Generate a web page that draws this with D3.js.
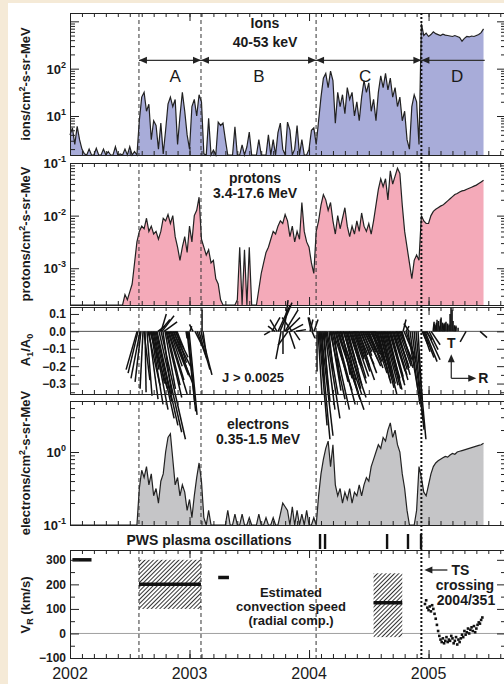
<!DOCTYPE html>
<html>
<head>
<meta charset="utf-8">
<script src="https://cdn.jsdelivr.net/npm/d3@7"></script>
<style>
body { margin: 0; background: #f5ead7; }
svg { display: block; }
text { font-family: "Liberation Sans", Arial, Helvetica, sans-serif; fill: #1a1a1a; }
.ax path, .ax line { stroke: #222; stroke-width: 1; }
.ax text { font-size: 12px; font-weight: bold; fill: #1a1a1a; font-family: "Liberation Sans", Arial, sans-serif; }
</style>
</head>
<body>
<div id="chart"></div>
<script>
// flux series: log10 values on a regular 0.02 yr grid starting 2002.0
var fluxStart = 2002.0;
var fluxStep = 0.02;

var ionsLog = [
  0.6, 0.75, 0.4, 0.78, 0.5, 0.3,
  0.2, 0, 0.3, 0, 0.1, 0.32, 0, 0, 0.3, 0, 0.25, 0, 0, 0.35, 0, 0.2, 0, 0.3, 0, 0.35, 0, 0.25, 0,
  0.9, 1.4, 1.5, 1.1, 1.25, 0.5, 0.9, 0.8, 0.3, 0.85, 0.2, 0.7, 1.25, 1.4, 1.2, 1.35, 0.4, 1.0, 1.5, 1.1,
  0.6, 0.3, 1.2, 1.35, 1.0, 1.45, 1.3, 0.2,
  0, 0.95, 0, 0.28, 0, 0.87, 0.8, 0.85, 0.5, 0, 0, 0, 0.77, 0, 0, 0.39, 0, 0.35, 0.66, 0, 0, 0, 0.5, 0,
  0, 0, 0.6, 0, 0.5, 0, 0.65, 0.85, 0.3, 0, 0.87, 0.7, 0, 0.3, 0.8, 0, 0.5, 0, 0, 0.3, 0.7, 0.75,
  0.4, 0.9, 1.4, 1.8, 1.9, 1.6, 1.95, 1.75, 0.85, 1.5, 1.2, 1.45, 1.05, 1.6, 1.35, 1.5, 1.0, 1.3, 0.9,
  1.4, 1.75, 1.5, 1.7, 1.1, 1.35, 0.9, 1.5, 1.85, 1.6, 1.9, 1.55, 1.8, 1.4, 1.6, 1.2, 1.4, 0.9, 1.1,
  0.5, 0.3, 1.2, 1.45, 1.3, 0.4, 2.95,
  2.7, 2.75, 2.68, 2.72, 2.78, 2.74, 2.72, 2.7, 2.73, 2.71, 2.7, 2.69, 2.68, 2.7, 2.68, 2.66, 2.58,
  2.64, 2.68, 2.67, 2.69, 2.68, 2.7, 2.72, 2.76, 2.84
];

var protonsLog = [
  -4, -4, -4, -4, -4, -4, -4, -4, -4, -4, -4, -4, -4, -4, -4, -4, -4, -4, -4, -4, -4, -4, -4,
  -3.5, -3.6, -3.45, -3.3, -2.9, -2.5,
  -2.3, -2.2, -2.25, -2.05, -2.3, -2.2, -2.35, -2.3, -2.45, -2.3, -2.05, -2.1, -1.98, -2.15, -2.0,
  -2.4, -2.6, -2.85, -2.6, -2.4, -2.7, -2.2, -2.5, -2.0, -1.9, -1.65, -2.45, -2.6,
  -2.75, -2.65, -2.9, -2.85, -3.2, -3.3, -3.6, -3.9, -4, -4, -4, -4, -4, -3.6,
  -2.6, -3.8, -2.65, -3.9, -2.6, -3.9, -4, -4,
  -3.4, -3.1, -2.9, -2.7, -2.6, -2.45, -2.3, -2.35, -2.2, -2.1, -2.15, -1.98, -2.1, -2.4, -2.2,
  -2.5, -2.3, -2.45, -1.75, -2.3, -2.5, -2.6, -2.9, -3.1,
  -2.3, -2.1, -1.8, -1.6, -1.7, -1.9, -1.75, -2.1, -2.35, -2.0, -2.25, -2.05, -1.85, -2.2, -2.4,
  -2.2, -2.35, -2.1, -2.3, -1.95, -2.2, -2.3, -2.15, -2.35, -2.1, -1.8, -1.5, -1.3, -1.45, -1.3,
  -1.7, -1.15, -1.4, -1.25, -1.1, -1.2, -1.8, -2.3, -2.6, -2.9, -3.2, -2.85, -2.75, -2.85,
  -2.0, -2.1, -2.15, -2.15, -2.0, -1.92, -1.88, -1.85, -1.82, -1.8, -1.76, -1.72, -1.68, -1.64,
  -1.6, -1.58, -1.55, -1.53, -1.52, -1.5, -1.48, -1.46, -1.44, -1.42, -1.39, -1.36, -1.33
];

var electronsLog = [
  -1.1, -1.1, -1.1, -1.1, -1.1, -1.1, -1.1, -1.1, -1.1, -1.1, -1.1, -1.1, -1.1, -1.1, -1.1,
  -1.1, -1.1, -1.1, -1.1, -1.1, -1.1, -1.1, -1.1, -1.1, -1.1, -1.1, -1.1, -1.1, -1.1,
  -0.5, -0.25, -0.35, -0.2, -0.45, -0.3, -0.6, -0.5, -0.7, -0.4, -0.3, 0.0, 0.2, 0.25, -0.1,
  -0.45, -0.35, -0.6, -0.45, -0.55, -0.8, -0.65, -0.9, -0.6, -0.35, -0.15, -0.4, -0.9,
  -1.1, -0.8, -1.1, -1.1, -1.1, -1.1, -1.1, -1.1, -1.1, -0.8, -1.1, -1.1, -0.85, -1.1, -1.1,
  -0.85, -1.1, -1.1, -0.9, -1.1, -1.1, -1.1, -0.85, -1.1, -1.1, -0.9, -1.1, -1.1, -0.9, -1.1,
  -1.1, -0.85, -0.7, -0.75, -0.8, -1.1, -0.75, -1.1, -0.8, -1.1, -0.85, -1.1, -0.8, -1.1, -1.1,
  -0.9, -1.1,
  -0.6, -0.3, -0.1, 0.05, 0.15, -0.2, 0.1, -0.45, -0.6, -0.5, -0.7, -0.55, -0.65, -0.5, -0.7,
  -0.55, -0.6, -0.45, -0.6, -0.45, -0.35, -0.4, -0.2, -0.1, 0.0, 0.1, 0.05, 0.2, 0.15, 0.3,
  0.4, 0.2, 0.3, 0.1, 0.0, -0.3, -0.5, -0.8, -1.1, -1.1, -1.0, -0.8, -0.2,
  -0.35, -0.55, -0.6, -0.45, -0.3, -0.2, -0.15, -0.12, -0.1, -0.08, -0.06, -0.07, -0.04, -0.02,
  -0.03, 0.0, 0.01, 0.02, 0.03, 0.04, 0.05, 0.06, 0.07, 0.08, 0.09, 0.1, 0.12
];

// anisotropy vectors: [time, R component, T component] (A1/A0 units)
var aniso = [
  [2002.561, -0.063, -0.22], [2002.569, -0.057, -0.24], [2002.586, -0.052, -0.27], [2002.594, -0.034, -0.29],
  [2002.611, -0.017, -0.33], [2002.619, 0.034, -0.28], [2002.628, 0.006, -0.35], [2002.644, 0.029, -0.37],
  [2002.653, 0.069, -0.31], [2002.661, 0.052, -0.39], [2002.669, 0.1, -0.33], [2002.678, 0.069, -0.42],
  [2002.686, 0.04, -0.22], [2002.695, 0.086, -0.45], [2002.703, 0.06, -0.3], [2002.711, 0.11, -0.5],
  [2002.720, 0.09, -0.4], [2002.728, 0.12, -0.54], [2002.736, 0.04, 0.03], [2002.745, 0.13, -0.58],
  [2002.753, 0.057, 0.068], [2002.762, 0.14, -0.62], [2002.762, 0.03, 0.1], [2002.770, 0.069, 0.09],
  [2002.778, 0.05, -0.36], [2002.787, 0.075, 0.055], [2002.795, 0.06, -0.33], [2002.804, 0.09, -0.38],
  [2002.812, 0.075, -0.31], [2002.820, 0.11, -0.36], [2002.828, 0.086, -0.28], [2002.837, 0.07, -0.2],
  [2002.845, 0.1, -0.25], [2002.853, 0.12, -0.3], [2002.862, 0.1, -0.2], [2002.870, 0.09, -0.26],
  [2002.879, 0.075, -0.15], [2002.887, 0.06, -0.18], [2002.895, 0.04, -0.1], [2002.971, 0.006, -0.04],
  [2002.979, 0.05, -0.46], [2002.987, 0.04, -0.42], [2002.996, 0.046, -0.48], [2003.004, 0.01, 0.03],
  [2003.029, -0.02, 0.04], [2003.046, 0.05, -0.1], [2003.063, 0.057, -0.16], [2003.079, 0.063, -0.22],
  [2003.096, 0.063, -0.25], [2003.105, 0, 0.124], [2003.113, 0.017, -0.12],
  [2003.674, -0.034, -0.02], [2003.690, 0.046, 0.08], [2003.715, -0.04, 0.03], [2003.732, -0.04, 0.068],
  [2003.741, 0.069, 0.15], [2003.757, 0.069, 0.165], [2003.766, -0.03, -0.16], [2003.782, 0, -0.13],
  [2003.791, 0.023, 0.18], [2003.799, 0.075, 0.124], [2003.808, 0.08, 0.08], [2003.824, -0.057, -0.08],
  [2003.833, 0.034, -0.1], [2003.841, 0.075, 0.04], [2003.858, -0.057, 0.08], [2003.874, 0.034, -0.05],
  [2003.891, 0.057, 0.01], [2004.008, 0.017, 0.068], [2004.017, -0.017, 0.08], [2004.025, 0.017, -0.04],
  [2004.033, -0.023, 0.08], [2004.042, 0.023, 0.068],
  [2004.067, 0, -0.23], [2004.075, 0.023, -0.365], [2004.084, 0.046, -0.54], [2004.092, 0.057, -0.62],
  [2004.100, 0.069, -0.6], [2004.109, 0.011, -0.28], [2004.117, 0.04, -0.4], [2004.126, 0.023, -0.34],
  [2004.134, 0.057, -0.45], [2004.142, 0.08, -0.5], [2004.151, 0.063, -0.365], [2004.167, 0.023, -0.22],
  [2004.176, 0.086, -0.39], [2004.184, 0.057, -0.34], [2004.192, 0.1, -0.45], [2004.201, 0.109, -0.34],
  [2004.209, 0.034, -0.28], [2004.218, 0.075, -0.29], [2004.226, 0.11, -0.42], [2004.234, 0.155, -0.45],
  [2004.243, 0.126, -0.39], [2004.251, 0.075, -0.27], [2004.259, 0.126, -0.365], [2004.268, 0.098, -0.35],
  [2004.276, 0.046, -0.25], [2004.285, 0.132, -0.38], [2004.293, 0.069, -0.28], [2004.302, 0.09, -0.33],
  [2004.310, 0.069, -0.22], [2004.318, 0.05, -0.18], [2004.326, 0.08, -0.31], [2004.335, 0.1, -0.3],
  [2004.343, 0.057, -0.19], [2004.352, 0.06, -0.2], [2004.360, 0.08, -0.27], [2004.368, 0.09, -0.26],
  [2004.377, 0.057, -0.16], [2004.385, 0.05, -0.15], [2004.393, 0.08, -0.23], [2004.402, 0.1, -0.28],
  [2004.410, 0.057, -0.135], [2004.419, 0.06, -0.2], [2004.427, 0.08, -0.19], [2004.435, 0.09, -0.24],
  [2004.444, 0.057, -0.117], [2004.452, 0.05, -0.14], [2004.460, 0.08, -0.163], [2004.469, 0.09, -0.2],
  [2004.477, 0.057, -0.105], [2004.486, 0.05, -0.12], [2004.494, 0.08, -0.174], [2004.502, 0.08, -0.21],
  [2004.510, 0.057, -0.094], [2004.519, 0.05, -0.13], [2004.527, 0.08, -0.19], [2004.536, 0.08, -0.24],
  [2004.544, 0.057, -0.135], [2004.552, 0.06, -0.18], [2004.561, 0.069, -0.23], [2004.569, 0.08, -0.3],
  [2004.577, 0.069, -0.28], [2004.586, 0.07, -0.26], [2004.594, 0.08, -0.325], [2004.603, 0.09, -0.36],
  [2004.611, 0.057, -0.25], [2004.620, 0.07, -0.3], [2004.628, 0.08, -0.31], [2004.636, 0.09, -0.33],
  [2004.644, 0.08, -0.27], [2004.653, 0.07, -0.28], [2004.661, 0.08, -0.335], [2004.670, 0.09, -0.31],
  [2004.678, 0.08, -0.29], [2004.686, 0.07, -0.26], [2004.695, 0.075, -0.23], [2004.703, 0.08, -0.25],
  [2004.711, 0.08, -0.28], [2004.720, 0.07, -0.22], [2004.728, 0.069, -0.19], [2004.736, 0.07, -0.21],
  [2004.745, 0.069, -0.25], [2004.753, 0.07, -0.2], [2004.762, 0.069, -0.163], [2004.770, 0.06, -0.18],
  [2004.778, 0.063, -0.21], [2004.787, 0.017, 0.068], [2004.795, 0.057, -0.135], [2004.812, 0.057, -0.174],
  [2004.812, 0.017, 0.03], [2004.828, 0.057, -0.335], [2004.837, -0.03, 0.045], [2004.845, 0.057, -0.42],
  [2004.862, 0.063, -0.51], [2004.879, 0.057, -0.565], [2004.895, 0.057, -0.62], [2004.912, 0.023, -0.39],
  [2004.946, 0.034, -0.077], [2004.954, 0.04, -0.117], [2004.962, 0.057, -0.15], [2004.971, 0.069, -0.174],
  [2004.979, 0.034, -0.048], [2004.987, 0.075, -0.163], [2005.004, 0.052, -0.105], [2005.021, 0.052, -0.077],
  [2005.038, 0.006, 0.055], [2005.046, 0.003, 0.045], [2005.054, 0.006, 0.038], [2005.063, 0.003, 0.05],
  [2005.071, 0, 0.067], [2005.079, 0.003, 0.06], [2005.088, 0.006, 0.033], [2005.096, 0.003, 0.07],
  [2005.105, 0, 0.079], [2005.113, 0.003, 0.05], [2005.121, 0.006, 0.044], [2005.130, 0.003, 0.04],
  [2005.138, 0, 0.05], [2005.146, 0, 0.055], [2005.155, 0.003, 0.045], [2005.163, 0, 0.033],
  [2005.172, 0, 0.04], [2005.180, 0, 0.1], [2005.188, 0, 0.14], [2005.197, 0, 0.124],
  [2005.205, 0, 0.06], [2005.213, 0.003, 0.035], [2005.222, 0.006, 0.033], [2005.230, 0, 0.025],
  [2005.247, 0, 0.021], [2005.314, -0.034, -0.06], [2005.431, 0.04, -0.036]
];

// period boundaries and labels
var boundaries = [2002.577, 2003.096, 2004.059];
var tsTime = 2004.94;
var regionEdges = [2002.577, 2003.096, 2004.059, 2004.94, 2005.47];
var regionNames = ["A", "B", "C", "D"];
var regionLabelT = [2002.88, 2003.58, 2004.47, 2005.24];

// PWS plasma oscillation events
var pwsTimes = [2004.092, 2004.134, 2004.653, 2004.828, 2004.937];

// convection speed estimates: [start, end, speed] and [start, end, low, high]
var vrBars = [[2002.02, 2002.18, 300], [2002.577, 2003.096, 200], [2003.24, 2003.33, 228], [2004.54, 2004.78, 125]];
var vrBoxes = [[2002.577, 2003.096, 100, 300], [2004.54, 2004.78, -15, 245]];

// post-shock radial speed, 0.01 yr grid from 2004.97
var tsVrStart = 2004.97;
var tsVrStep = 0.01;
var tsVr = [120, 135, 105, 95, 110, 90, 115, 100, 80, 60, 35, 10, -10, -25, -35, -20, -40, -30, -15, -35,
  -25, -30, -10, -20, -40, -30, -15, -45, -25, -35, -20, -5, -15, 10, -5, 5, 20, 0, 15, 25,
  10, 30, 5, 20, 35, 45, 40, 55, 65];

var yearTicks = [2002, 2003, 2004, 2005];
var yearLabels = ["2002", "2003", "2004", "2005"];

var width = 504, height = 684;
var left = 70, right = 506;

var svg = d3.select("#chart").append("svg")
  .attr("width", width)
  .attr("height", height);

svg.append("rect").attr("width", width).attr("height", height).attr("fill", "#f5ead7");
svg.append("rect").attr("x", 8).attr("y", 3).attr("width", width - 8).attr("height", height - 3).attr("fill", "#fff");

var defs = svg.append("defs");
var pat = defs.append("pattern")
  .attr("id", "hatch")
  .attr("patternUnits", "userSpaceOnUse")
  .attr("width", 3).attr("height", 3)
  .attr("patternTransform", "rotate(45)");
pat.append("rect").attr("width", 3).attr("height", 3).attr("fill", "#fff");
pat.append("line").attr("x1", 0.5).attr("y1", 0).attr("x2", 0.5).attr("y2", 3)
  .attr("stroke", "#333").attr("stroke-width", 1);

var x = d3.scaleLinear().domain([2002, 2005.648]).range([left, right]);

var yIons = d3.scaleLog().domain([1.5, 1500]).range([155, 13]);
var yProt = d3.scaleLog().domain([2e-4, 0.1]).range([305, 163]);
var yAni = d3.scaleLinear().domain([-0.36, 0.14]).range([394, 307]);
var yElec = d3.scaleLog().domain([0.1, 5]).range([525, 401]);
var yVr = d3.scaleLinear().domain([-100, 340]).range([658, 550]);

var minorX = d3.range(2002, 2005.65, 0.1);

function xAxes(y) {
  var yb = y.range()[0], yt = y.range()[1];
  svg.append("g").attr("class", "ax").attr("transform", "translate(0," + yt + ")")
    .call(d3.axisTop(x).tickValues(minorX).tickSize(-4).tickSizeOuter(0).tickFormat(""));
  svg.append("g").attr("class", "ax").attr("transform", "translate(0," + yt + ")")
    .call(d3.axisTop(x).tickValues(yearTicks).tickSize(-8).tickSizeOuter(0).tickFormat(""));
  svg.append("g").attr("class", "ax").attr("transform", "translate(0," + yb + ")")
    .call(d3.axisBottom(x).tickValues(minorX).tickSize(-4).tickSizeOuter(0).tickFormat(""));
  svg.append("g").attr("class", "ax").attr("transform", "translate(0," + yb + ")")
    .call(d3.axisBottom(x).tickValues(yearTicks).tickSize(-8).tickSizeOuter(0).tickFormat(""));
}

function yAxes(y, minor, major, fmt) {
  svg.append("g").attr("class", "ax").attr("transform", "translate(" + left + ",0)")
    .call(d3.axisLeft(y).tickValues(minor).tickSize(-5).tickSizeOuter(0).tickFormat(""));
  svg.append("g").attr("class", "ax").attr("transform", "translate(" + left + ",0)")
    .call(d3.axisLeft(y).tickValues(major).tickSize(-9).tickSizeOuter(0).tickPadding(4).tickFormat(fmt || ""));
  svg.append("g").attr("class", "ax").attr("transform", "translate(" + right + ",0)")
    .call(d3.axisRight(y).tickValues(minor).tickSize(-5).tickSizeOuter(0).tickFormat(""));
  svg.append("g").attr("class", "ax").attr("transform", "translate(" + right + ",0)")
    .call(d3.axisRight(y).tickValues(major).tickSize(-9).tickSizeOuter(0).tickFormat(""));
}

function logTicks(y) {
  var all = y.ticks();
  var major = all.filter(function(v) { return Math.abs(Math.log10(v) - Math.round(Math.log10(v))) < 1e-6; });
  var minor = all.filter(function(v) { return major.indexOf(v) < 0; });
  yAxes(y, minor, major);
}

function powLabel(y, v, exp) {
  var t = svg.append("text")
    .attr("x", left - 4)
    .attr("y", y(v) + 5)
    .attr("text-anchor", "end")
    .attr("font-size", 13)
    .attr("font-weight", "bold");
  t.append("tspan").text("10");
  t.append("tspan").attr("dy", -6).attr("font-size", 9).text(exp);
}

function dashedLines(y) {
  boundaries.forEach(function(b) {
    svg.append("line")
      .attr("x1", x(b)).attr("x2", x(b))
      .attr("y1", y.range()[1]).attr("y2", y.range()[0])
      .attr("stroke", "#333").attr("stroke-width", 1)
      .attr("stroke-dasharray", "4,3");
  });
}

function fluxPanel(vals, y, fill) {
  var floor = y.domain()[0];
  var pts = vals.map(function(v, i) {
    return [fluxStart + i * fluxStep, Math.max(Math.pow(10, v), floor)];
  });
  var area = d3.area()
    .x(function(d) { return x(d[0]); })
    .y0(y.range()[0])
    .y1(function(d) { return y(d[1]); });
  var line = d3.line()
    .x(function(d) { return x(d[0]); })
    .y(function(d) { return y(d[1]); });
  svg.append("path").datum(pts).attr("d", area).attr("fill", fill);
  svg.append("path").datum(pts).attr("d", line)
    .attr("fill", "none").attr("stroke", "#222").attr("stroke-width", 1.2);
}

function yTitle(cy, build) {
  var t = svg.append("text")
    .attr("transform", "translate(25," + cy + ") rotate(-90)")
    .attr("text-anchor", "middle")
    .attr("dy", "0.35em")
    .attr("font-size", 13)
    .attr("font-weight", "bold");
  build(t);
}

function perCm2(t, name) {
  t.append("tspan").text(name + "/cm");
  t.append("tspan").attr("dy", -5).attr("font-size", 9).text("2");
  t.append("tspan").attr("dy", 5).text("-s-sr-MeV");
}

function centerText(tx, ty, str, size, weight) {
  return svg.append("text")
    .attr("x", tx).attr("y", ty)
    .attr("text-anchor", "middle")
    .attr("font-size", size)
    .attr("font-weight", weight || "bold")
    .text(str);
}

function arrowHead(xTip, yTip, dx, dy) {
  // dx, dy: unit direction of the arrow
  var px = -dy, py = dx, L = 8, w = 3.5;
  var bx = xTip - dx * L, by = yTip - dy * L;
  svg.append("path")
    .attr("d", "M" + xTip + "," + yTip + "L" + (bx + px * w) + "," + (by + py * w) +
      "L" + (bx - px * w) + "," + (by - py * w) + "Z")
    .attr("fill", "#222");
}

// ---- panel 1: ions ----
fluxPanel(ionsLog, yIons, "#a8acd9");
dashedLines(yIons);
xAxes(yIons);
logTicks(yIons);
powLabel(yIons, 100, "2");
powLabel(yIons, 10, "1");
centerText(265, 28, "Ions", 14);
centerText(265, 47, "40-53 keV", 14);

var arrowY = yIons(150);
svg.append("line")
  .attr("x1", x(regionEdges[0])).attr("x2", x(regionEdges[4]))
  .attr("y1", arrowY).attr("y2", arrowY)
  .attr("stroke", "#333").attr("stroke-width", 1.4);
regionNames.forEach(function(n, i) {
  arrowHead(x(regionEdges[i]), arrowY, -1, 0);
  if (i < 3) arrowHead(x(regionEdges[i + 1]), arrowY, 1, 0);
  centerText(x(regionLabelT[i]), arrowY + 22, n, 17, "normal");
});

// ---- panel 2: protons ----
fluxPanel(protonsLog, yProt, "#f4aab9");
dashedLines(yProt);
xAxes(yProt);
logTicks(yProt);
powLabel(yProt, 0.1, "-1");
powLabel(yProt, 0.01, "-2");
powLabel(yProt, 0.001, "-3");
centerText(255, 183, "protons", 14);
centerText(255, 198, "3.4-17.6 MeV", 14);

// ---- panel 3: anisotropy vectors ----
var aUnit = yAni(0) - yAni(1);
svg.append("line")
  .attr("x1", left).attr("x2", right)
  .attr("y1", yAni(0)).attr("y2", yAni(0))
  .attr("stroke", "#555").attr("stroke-width", 1);
dashedLines(yAni);
svg.append("g").selectAll("line").data(aniso).enter()
  .append("line")
  .attr("x1", function(d) { return x(d[0]); })
  .attr("y1", yAni(0))
  .attr("x2", function(d) { return x(d[0]) + d[1] * aUnit; })
  .attr("y2", function(d) { return yAni(d[2]); })
  .attr("stroke", "#111")
  .attr("stroke-width", 1.5);
xAxes(yAni);
yAxes(yAni, [-0.35, -0.25, -0.15, -0.05, 0.05], [-0.3, -0.2, -0.1, 0, 0.1], d3.format(".1f"));
centerText(253, 382, "J > 0.0025", 13);

// T / R frame legend
var legX = x(2005.19), legY = yAni(-0.27);
svg.append("line").attr("x1", legX).attr("x2", legX).attr("y1", legY).attr("y2", legY - 20)
  .attr("stroke", "#222").attr("stroke-width", 1.2);
arrowHead(legX, legY - 24, 0, -1);
svg.append("line").attr("x1", legX).attr("x2", legX + 20).attr("y1", legY).attr("y2", legY)
  .attr("stroke", "#222").attr("stroke-width", 1.2);
arrowHead(legX + 25, legY, 1, 0);
centerText(legX, legY - 30, "T", 14);
centerText(legX + 32, legY + 5, "R", 14);

yTitle(350, function(t) {
  t.append("tspan").text("A");
  t.append("tspan").attr("dy", 3).attr("font-size", 9).text("1");
  t.append("tspan").attr("dy", -3).text("/A");
  t.append("tspan").attr("dy", 3).attr("font-size", 9).text("0");
});

// ---- panel 4: electrons ----
fluxPanel(electronsLog, yElec, "#c5c5c7");
dashedLines(yElec);
xAxes(yElec);
logTicks(yElec);
powLabel(yElec, 1, "0");
powLabel(yElec, 0.1, "-1");
centerText(258, 429, "electrons", 14);
centerText(258, 444, "0.35-1.5 MeV", 14);

// ---- PWS row ----
centerText(209, 545, "PWS plasma oscillations", 14);
svg.append("g").selectAll("rect").data(pwsTimes).enter()
  .append("rect")
  .attr("x", function(d) { return x(d) - 1.2; })
  .attr("width", 2.4)
  .attr("y", 534)
  .attr("height", 15)
  .attr("fill", "#111");

// ---- panel 5: radial convection speed ----
svg.append("line")
  .attr("x1", left).attr("x2", right)
  .attr("y1", yVr(0)).attr("y2", yVr(0))
  .attr("stroke", "#888").attr("stroke-width", 0.8);
svg.append("g").selectAll("rect").data(vrBoxes).enter()
  .append("rect")
  .attr("x", function(d) { return x(d[0]); })
  .attr("width", function(d) { return x(d[1]) - x(d[0]); })
  .attr("y", function(d) { return yVr(d[3]); })
  .attr("height", function(d) { return yVr(d[2]) - yVr(d[3]); })
  .attr("fill", "url(#hatch)");
dashedLines(yVr);
svg.append("g").selectAll("line").data(vrBars).enter()
  .append("line")
  .attr("x1", function(d) { return x(d[0]); })
  .attr("x2", function(d) { return x(d[1]); })
  .attr("y1", function(d) { return yVr(d[2]); })
  .attr("y2", function(d) { return yVr(d[2]); })
  .attr("stroke", "#111")
  .attr("stroke-width", 3.5);
svg.append("g").selectAll("rect").data(tsVr).enter()
  .append("rect")
  .attr("x", function(d, i) { return x(tsVrStart + i * tsVrStep) - 1.3; })
  .attr("y", function(d) { return yVr(d) - 1.3; })
  .attr("width", 2.6)
  .attr("height", 2.6)
  .attr("fill", "#111");
xAxes(yVr);
yAxes(yVr, [-50, 50, 150, 250], [-100, 0, 100, 200, 300], d3.format("d"));

centerText(291, 597, "Estimated", 13);
centerText(291, 611, "convection speed", 13);
centerText(291, 625, "(radial comp.)", 13);

svg.append("line").attr("x1", x(tsTime) + 26).attr("x2", x(tsTime) + 8)
  .attr("y1", 570).attr("y2", 570).attr("stroke", "#222").attr("stroke-width", 1.3);
arrowHead(x(tsTime) + 3, 570, -1, 0);
svg.append("text").attr("x", x(tsTime) + 30).attr("y", 575)
  .attr("font-size", 14).attr("font-weight", "bold").text("TS");
centerText(465, 590, "crossing", 14);
centerText(466, 605, "2004/351", 14);

yTitle(605, function(t) {
  t.append("tspan").text("V");
  t.append("tspan").attr("dy", 3).attr("font-size", 9).text("R");
  t.append("tspan").attr("dy", -3).text(" (km/s)");
});

yearTicks.forEach(function(yr, i) {
  centerText(x(yr), 679, yearLabels[i], 16, "normal");
});

// ---- y titles for flux panels ----
yTitle(84, function(t) { perCm2(t, "ions"); });
yTitle(234, function(t) { perCm2(t, "protons"); });
yTitle(463, function(t) { perCm2(t, "electrons"); });

// ---- termination shock crossing ----
svg.append("line")
  .attr("x1", x(tsTime)).attr("x2", x(tsTime))
  .attr("y1", 13).attr("y2", 658)
  .attr("stroke", "#111").attr("stroke-width", 2)
  .attr("stroke-dasharray", "2,2");
</script>
</body>
</html>
